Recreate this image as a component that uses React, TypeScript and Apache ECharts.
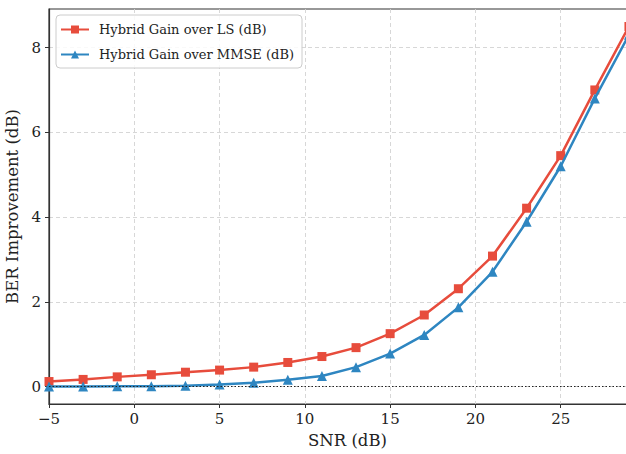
import { useEffect, useRef } from "react";
import * as echarts from "echarts";

// SNR sweep (dB) and the BER improvement of the hybrid estimator over each baseline
const snr = [-5, -3, -1, 1, 3, 5, 7, 9, 11, 13, 15, 17, 19, 21, 23, 25, 27, 29];
const lsGain = [0.12, 0.17, 0.23, 0.28, 0.34, 0.39, 0.46, 0.57, 0.71, 0.92, 1.25, 1.69, 2.31, 3.08, 4.21, 5.45, 7.0, 8.5];
const mmseGain = [0.0, 0.0, 0.01, 0.01, 0.02, 0.05, 0.09, 0.16, 0.25, 0.46, 0.78, 1.22, 1.87, 2.71, 3.89, 5.2, 6.8, 8.3];
const xTicks = [-5, 0, 5, 10, 15, 20, 25];
const yTicks = [0, 2, 4, 6, 8];

const SERIF = "'DejaVu Serif', 'Liberation Serif', serif";
const RED = "#e74c3c";
const BLUE = "#2e86c1";
const INK = "#222";

export default function App() {
  const ref = useRef<HTMLDivElement>(null);

  useEffect(() => {
    if (!ref.current) return;
    const chart = echarts.init(ref.current, null, { renderer: "svg" });

    const toPairs = (ys: number[]) => snr.map((x, i) => [x, ys[i]]);

    chart.setOption({
      animation: false,
      backgroundColor: "#fff",
      grid: {
        left: 49,
        top: 9,
        width: 597,
        height: 395,
        outerBoundsMode: "none",
        containLabel: false,
        show: true,
        borderColor: "#333",
        borderWidth: 1.2,
        backgroundColor: "transparent",
      },
      legend: {
        left: 56,
        top: 15,
        orient: "vertical",
        itemWidth: 28,
        itemHeight: 10,
        itemGap: 12,
        padding: [8, 8, 7, 4],
        backgroundColor: "rgba(255,255,255,0.85)",
        borderColor: "#cccccc",
        borderWidth: 1,
        borderRadius: 4,
        textStyle: {
          fontFamily: SERIF,
          fontSize: 13,
          color: INK,
          padding: [0, 0, 0, 5],
        },
        data: ["Hybrid Gain over LS (dB)", "Hybrid Gain over MMSE (dB)"],
      },
      xAxis: {
        type: "value",
        min: -5,
        max: 30,
        interval: 5,
        name: "SNR (dB)",
        nameLocation: "middle",
        nameGap: 28,
        nameTextStyle: { fontFamily: SERIF, fontSize: 16.5, color: INK },
        axisLine: { show: true, onZero: false, lineStyle: { color: "#333", width: 1.2 } },
        axisTick: {
          show: true,
          inside: false,
          length: 4,
          customValues: xTicks,
          lineStyle: { color: "#333", width: 1 },
        },
        axisLabel: {
          fontFamily: SERIF,
          fontSize: 15,
          color: INK,
          margin: 7,
          customValues: xTicks,
          formatter: (v: number) => (v < 0 ? "\u2212" + Math.abs(v) : String(v)),
        },
        splitLine: { show: true, lineStyle: { color: "#d3d3d3", type: [4, 3], width: 0.9 } },
      },
      yAxis: {
        type: "value",
        min: -0.41,
        max: 8.91,
        name: "BER Improvement (dB)",
        nameLocation: "middle",
        nameGap: 21,
        nameTextStyle: { fontFamily: SERIF, fontSize: 16.5, color: INK },
        axisLine: { show: true, onZero: false, lineStyle: { color: "#333", width: 1.2 } },
        axisTick: {
          show: true,
          inside: false,
          length: 4,
          customValues: yTicks,
          lineStyle: { color: "#333", width: 1 },
        },
        axisLabel: {
          fontFamily: SERIF,
          fontSize: 15,
          color: INK,
          margin: 8,
          customValues: yTicks,
        },
        splitLine: { show: true, lineStyle: { color: "#d3d3d3", type: [4, 3], width: 0.9 } },
      },
      series: [
        {
          name: "Hybrid Gain over LS (dB)",
          type: "line",
          data: toPairs(lsGain),
          symbol: "rect",
          symbolSize: 9,
          showAllSymbol: true,
          color: RED,
          lineStyle: { color: RED, width: 2.5 },
          itemStyle: { color: RED },
          z: 3,
        },
        {
          name: "Hybrid Gain over MMSE (dB)",
          type: "line",
          data: toPairs(mmseGain),
          symbol: "triangle",
          symbolSize: 10,
          showAllSymbol: true,
          color: BLUE,
          lineStyle: { color: BLUE, width: 2.5 },
          itemStyle: { color: BLUE },
          z: 4,
          markLine: {
            silent: true,
            symbol: "none",
            label: { show: false },
            z: 6,
            lineStyle: { color: "#222", type: [1.5, 2], width: 1.2 },
            data: [{ yAxis: 0 }],
          },
        },
      ],
    });

    return () => chart.dispose();
  }, []);

  return (
    <div
      ref={ref}
      style={{ position: "absolute", left: 0, top: 0, width: 626, height: 454 }}
    />
  );
}
